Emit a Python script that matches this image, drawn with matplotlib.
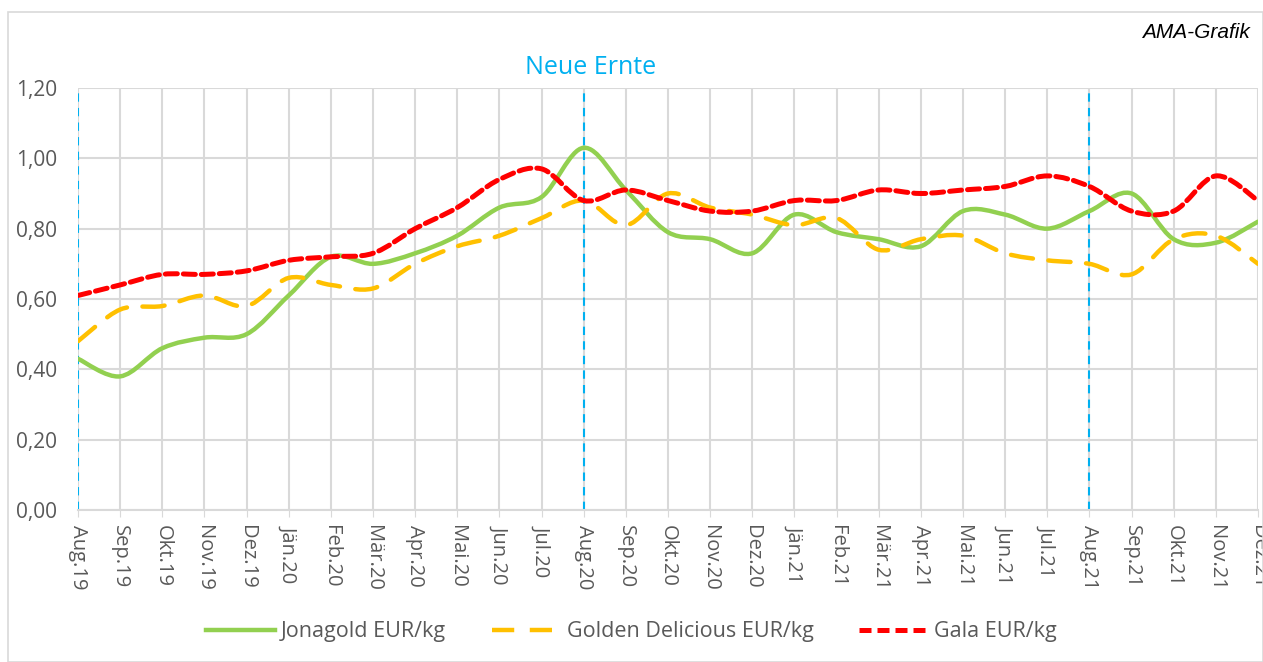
import numpy as np
import matplotlib
matplotlib.use("Agg")
import matplotlib.pyplot as plt
from matplotlib.path import Path
from matplotlib.patches import PathPatch, Rectangle
from matplotlib.lines import Line2D

plt.rcParams['font.family'] = ['Open Sans', 'DejaVu Sans']

months = ['Aug.19', 'Sep.19', 'Okt.19', 'Nov.19', 'Dez.19', 'Jän.20', 'Feb.20', 'Mär.20',
          'Apr.20', 'Mai.20', 'Jun.20', 'Jul.20', 'Aug.20', 'Sep.20', 'Okt.20', 'Nov.20',
          'Dez.20', 'Jän.21', 'Feb.21', 'Mär.21', 'Apr.21', 'Mai.21', 'Jun.21', 'Jul.21',
          'Aug.21', 'Sep.21', 'Okt.21', 'Nov.21', 'Dez.21']

jonagold = [0.43, 0.38, 0.46, 0.49, 0.50, 0.61, 0.72, 0.70, 0.73, 0.78, 0.86, 0.89, 1.03,
            0.91, 0.79, 0.77, 0.73, 0.84, 0.79, 0.77, 0.75, 0.85, 0.84, 0.80, 0.85, 0.90,
            0.77, 0.76, 0.82]
golden = [0.48, 0.57, 0.58, 0.61, 0.58, 0.66, 0.64, 0.63, 0.70, 0.75, 0.78, 0.83, 0.88,
          0.81, 0.90, 0.86, 0.84, 0.81, 0.83, 0.74, 0.77, 0.78, 0.73, 0.71, 0.70, 0.67,
          0.77, 0.78, 0.70]
gala = [0.61, 0.64, 0.67, 0.67, 0.68, 0.71, 0.72, 0.73, 0.80, 0.86, 0.94, 0.97, 0.88,
        0.91, 0.88, 0.85, 0.85, 0.88, 0.88, 0.91, 0.90, 0.91, 0.92, 0.95, 0.92, 0.85,
        0.85, 0.95, 0.88]

harvest = ['Aug.19', 'Aug.20', 'Aug.21']

GREEN = '#92d050'
YELLOW = '#ffc000'
RED = '#ff0000'
BLUE = '#00b0f0'
GRID = '#d9d9d9'
TXT = '#595959'


def smooth_path(xs, ys):
    # Excel-style smoothed line: cubic Bezier segments through every point
    p = np.column_stack([xs, ys]).astype(float)
    ext = np.vstack([p[0], p, p[-1]])
    verts = [p[0]]
    codes = [Path.MOVETO]
    for i in range(len(p) - 1):
        p0, p1, p2, p3 = ext[i], ext[i + 1], ext[i + 2], ext[i + 3]
        c1 = p1 + (p2 - p0) / 6.0
        c2 = p2 - (p3 - p1) / 6.0
        verts += [c1, c2, p2]
        codes += [Path.CURVE4] * 3
    return Path(verts, codes)


fig = plt.figure(figsize=(12.63, 6.62), dpi=100)
ax = fig.add_axes([78 / 1263, 152 / 662, 1180 / 1263, 422 / 662])

# outer chart border
fig.patches.append(Rectangle((8 / 1263, 0), 1 - 8 / 1263, 650 / 662, transform=fig.transFigure,
                             fill=False, edgecolor=GRID, lw=1.2))

x = np.arange(len(months))
ax.set_xlim(0, len(months) - 1)
ax.set_ylim(0, 1.2)
ax.set_yticks(np.arange(0, 1.21, 0.2))
ax.set_yticklabels([f'{v:.2f}'.replace('.', ',') for v in np.arange(0, 1.21, 0.2)])
ax.set_xticks(x)
ax.set_xticklabels(months, rotation=-90, va='top', ha='center')
ax.tick_params(axis='x', length=5, color=GRID, labelsize=14.5, labelcolor=TXT, pad=6)
ax.tick_params(axis='y', length=0, labelsize=15, labelcolor=TXT, pad=15)
ax.grid(True, color=GRID, lw=1.5)
ax.set_axisbelow(True)
for s in ['top', 'right', 'left']:
    ax.spines[s].set_visible(False)
ax.spines['bottom'].set_color(GRID)
ax.spines['bottom'].set_linewidth(1.5)

for m in harvest:
    ax.axvline(months.index(m), color=BLUE, lw=1.5, ls=(0, (4, 3)), zorder=2)
ax.text(months.index('Aug.20') + 0.17, 1.257, 'Neue Ernte', color=BLUE, fontsize=18,
        ha='center', va='center')
fig.text(1250 / 1263, 1 - 33 / 662, 'AMA-Grafik', style='italic', fontsize=15,
         ha='right', va='center', color='black', family=['Liberation Sans', 'DejaVu Sans'])

styles = [
    (jonagold, GREEN, '-', 3.2, 'Jonagold EUR/kg'),
    (golden, YELLOW, (0, (5, 3.5)), 3.2, 'Golden Delicious EUR/kg'),
    (gala, RED, (0, (2.4, 1.2)), 3.6, 'Gala EUR/kg'),
]
handles = []
for vals, col, ls, lw, lab in styles:
    ax.add_patch(PathPatch(smooth_path(x, vals), fill=False, edgecolor=col, lw=lw,
                           ls=ls, capstyle='round', zorder=3))
    handles.append(Line2D([], [], color=col, lw=lw, ls=ls, label=lab))

fig.legend(handles=handles, loc='center', bbox_to_anchor=(0.5, 1 - 632 / 662), ncol=3,
           frameon=False, fontsize=15.5, handlelength=3.2, columnspacing=2.1,
           handletextpad=0.3, labelcolor=TXT)

fig.savefig('out.png', dpi=100)
